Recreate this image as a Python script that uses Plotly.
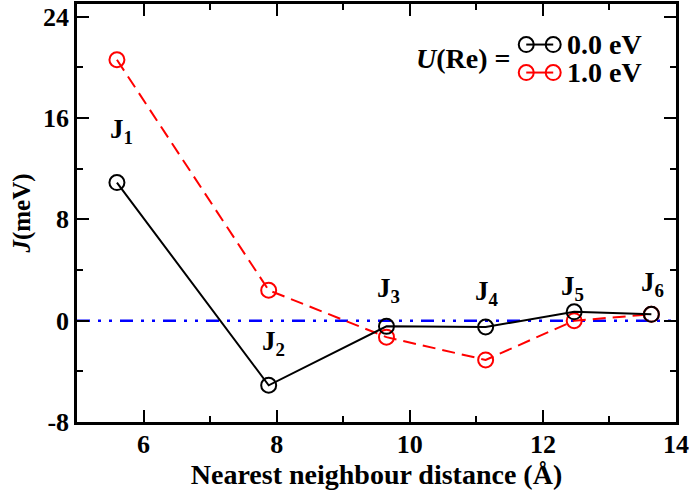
import plotly.graph_objects as go

# Exchange couplings J1..J6 versus nearest-neighbour distance
distance = [5.60, 7.88, 9.65, 11.14, 12.47, 13.63]
j_u0 = [10.9, -5.1, -0.45, -0.5, 0.7, 0.5]
j_u1 = [20.6, 2.4, -1.3, -3.1, 0.0, 0.5]
j_labels = ["J<sub>1</sub>", "J<sub>2</sub>", "J<sub>3</sub>", "J<sub>4</sub>", "J<sub>5</sub>", "J<sub>6</sub>"]
label_x = [5.67, 7.95, 9.68, 11.16, 12.45, 13.64]
label_y = [15.0, -1.8, 2.4, 2.2, 2.6, 2.9]
series_names = ["0.0 eV", "1.0 eV"]
x_ticks = [6, 8, 10, 12, 14]
y_ticks = [-8, 0, 8, 16, 24]
y_tick_text = ["-8", "0", "8", "16", "24"]

FONT = "Liberation Serif"
BLACK = "#000000"
RED = "#ff0000"
BLUE = "#0000ff"

fig = go.Figure()

# zero reference line (dash-dot-dot)
fig.add_trace(go.Scatter(
    x=[5, 14], y=[0, 0], mode="lines",
    line=dict(color=BLUE, width=2.5, dash="13px,8px,3px,8px,3px,8px"),
    showlegend=False, hoverinfo="skip"))

fig.add_trace(go.Scatter(
    x=distance, y=j_u1, mode="lines+markers", name=series_names[1],
    line=dict(color=RED, width=2, dash="13px,7px"),
    marker=dict(symbol="circle-open", size=15, color=RED, line=dict(width=2)),
    showlegend=False))

fig.add_trace(go.Scatter(
    x=distance, y=j_u0, mode="lines+markers", name=series_names[0],
    line=dict(color=BLACK, width=2),
    marker=dict(symbol="circle-open", size=15, color=BLACK, line=dict(width=2)),
    showlegend=False))

# legend keys drawn on an overlay axis spanning the plot area
key_x = [0.750, 0.795]
key_y = [0.903, 0.836]
fig.add_trace(go.Scatter(
    x=key_x, y=[key_y[0]] * 2, xaxis="x2", yaxis="y2", mode="lines+markers",
    line=dict(color=BLACK, width=2),
    marker=dict(symbol="circle-open", size=15, color=BLACK, line=dict(width=2)),
    showlegend=False, hoverinfo="skip"))
fig.add_trace(go.Scatter(
    x=key_x, y=[key_y[1]] * 2, xaxis="x2", yaxis="y2", mode="lines+markers",
    line=dict(color=RED, width=2),
    marker=dict(symbol="circle-open", size=15, color=RED, line=dict(width=2)),
    showlegend=False, hoverinfo="skip"))

annotations = []
for name, ky in zip(series_names, key_y):
    annotations.append(dict(
        x=0.815, y=ky, xref="x2", yref="y2", text=name, showarrow=False,
        xanchor="left", yanchor="middle",
        font=dict(family=FONT, size=28, color=BLACK, weight="bold")))
annotations.append(dict(
    x=0.728, y=0.869, xref="x2", yref="y2", text="<i>U</i>(Re) =", showarrow=False,
    xanchor="right", yanchor="middle",
    font=dict(family=FONT, size=28, color=BLACK, weight="bold")))
for t, lx, ly in zip(j_labels, label_x, label_y):
    annotations.append(dict(
        x=lx, y=ly, xref="x", yref="y", text=t, showarrow=False,
        xanchor="center", yanchor="middle",
        font=dict(family=FONT, size=27, color=BLACK, weight="bold")))

axis_common = dict(
    showline=True, linewidth=2.5, linecolor=BLACK, mirror="allticks",
    ticks="inside", ticklen=12, tickwidth=2, tickcolor=BLACK,
    showgrid=False, zeroline=False,
    tickfont=dict(family=FONT, size=26, color=BLACK, weight="bold"),
    minor=dict(ticks="inside", ticklen=6, tickwidth=2, tickcolor=BLACK, showgrid=False),
)

hidden_axis = dict(range=[0, 1], showticklabels=False, showline=False, showgrid=False,
                   zeroline=False, ticks="", fixedrange=True)

fig.update_layout(
    width=692, height=490,
    margin=dict(l=77, r=16, t=1, b=68),
    paper_bgcolor="white", plot_bgcolor="white",
    xaxis=dict(range=[5, 14], tickvals=x_ticks, minor_dtick=1, ticklabelstandoff=-3,
               title=dict(text="Nearest neighbour distance (Å)", standoff=4,
                          font=dict(family=FONT, size=28, color=BLACK, weight="bold")),
               **axis_common),
    yaxis=dict(range=[-8, 25], tickvals=y_ticks, ticktext=y_tick_text, minor_dtick=4,
               title=dict(text="<i>J</i>(meV)", standoff=6,
                          font=dict(family=FONT, size=25, color=BLACK, weight="bold")),
               **axis_common),
    xaxis2=dict(overlaying="x", **hidden_axis),
    yaxis2=dict(overlaying="y", **hidden_axis),
    annotations=annotations,
)

fig.write_html("out.html")
